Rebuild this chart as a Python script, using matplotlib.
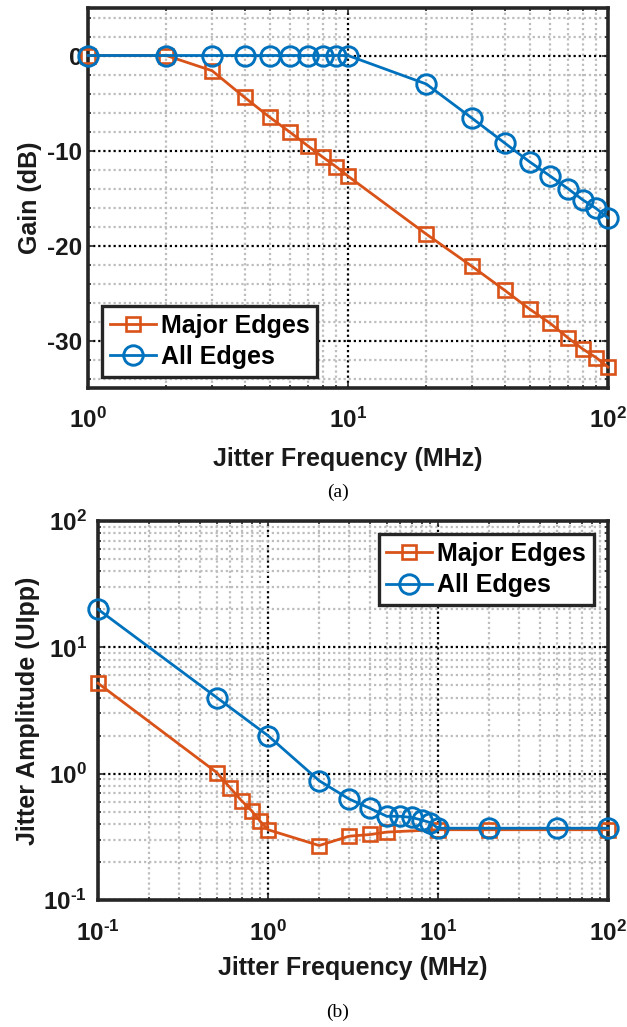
import numpy as np
import matplotlib
matplotlib.use('Agg')
import matplotlib.pyplot as plt
from matplotlib.ticker import FixedLocator, LogLocator, FuncFormatter, NullFormatter

plt.rcParams['font.family'] = ['Liberation Sans', 'DejaVu Sans']
plt.rcParams['font.weight'] = 'bold'
plt.rcParams['axes.unicode_minus'] = False
plt.rcParams['mathtext.fontset'] = 'custom'
plt.rcParams['mathtext.rm'] = 'Liberation Sans:bold'
plt.rcParams['mathtext.bf'] = 'Liberation Sans:bold'
plt.rcParams['mathtext.it'] = 'Liberation Sans:bold'

# (a) jitter transfer
freq_a_major = [1, 2, 3, 4, 5, 6, 7, 8, 9, 10, 20, 30, 40, 50, 60, 70, 80, 90, 100]
gain_major = [0, 0, -1.6, -4.4, -6.5, -8.1, -9.5, -10.7, -11.7, -12.7,
              -18.8, -22.2, -24.7, -26.7, -28.2, -29.7, -30.9, -31.8, -32.8]
freq_a_all = [1, 2, 3, 4, 5, 6, 7, 8, 9, 10, 20, 30, 40, 50, 60, 70, 80, 90, 100]
gain_all = [0, 0, 0, 0, 0, 0, 0, 0, 0, 0,
            -3.0, -6.6, -9.2, -11.2, -12.7, -14.0, -15.2, -16.1, -17.1]

# (b) jitter tolerance
freq_b_major = [0.1, 0.5, 0.6, 0.7, 0.8, 0.9, 1, 2, 3, 4, 5, 10, 20, 100]
amp_major = [5.2, 1.02, 0.77, 0.61, 0.51, 0.42, 0.36, 0.27, 0.32, 0.33, 0.345, 0.36, 0.36, 0.36]
freq_b_all = [0.1, 0.5, 1, 2, 3, 4, 5, 6, 7, 8, 9, 10, 20, 50, 100]
amp_all = [20, 4.0, 2.0, 0.88, 0.63, 0.53, 0.46, 0.46, 0.45, 0.43, 0.41, 0.37, 0.37, 0.37, 0.37]

orange = '#D95319'
blue = '#0072BD'
dark = '#262626'
txt = '#1a1a1a'


def pow10(v, pos):
    e = int(round(np.log10(v)))
    if e < 0:
        return r'$\mathrm{10^{\text{-}%d}}$' % (-e)
    return r'$\mathrm{10^{%d}}$' % e


def style_axes(ax):
    for s in ax.spines.values():
        s.set_linewidth(2.6)
        s.set_color(dark)
    ax.tick_params(which='both', direction='in', top=True, right=True,
                   labelsize=17.5, colors=dark, labelcolor=txt, width=1.2)
    ax.tick_params(which='major', length=4)
    ax.tick_params(which='minor', length=2.5)
    ax.grid(True, which='major', color='black', linestyle=(0, (1, 1.3)), linewidth=1.6)
    ax.grid(True, which='minor', color='#bdbdbd', linestyle=(0, (1, 1.3)), linewidth=1.6)
    ax.set_axisbelow(True)


def add_legend(ax, loc, anchor):
    leg = ax.legend(loc=loc, bbox_to_anchor=anchor, fontsize=18,
                    frameon=True, fancybox=False, borderpad=0.3, handlelength=1.85,
                    handletextpad=0.2, labelspacing=0.3, borderaxespad=0)
    leg.get_frame().set_edgecolor(dark)
    leg.get_frame().set_linewidth(2.4)
    leg.get_frame().set_alpha(1)
    return leg


fig = plt.figure(figsize=(6.27, 10.27), dpi=100)

# ---- top panel
ax1 = fig.add_axes([88 / 627, 1 - 388 / 1027, (608 - 88) / 627, (388 - 8) / 1027])
ax1.semilogx(freq_a_major, gain_major, '-s', color=orange, lw=2, ms=10.5,
             mfc='none', mew=1.9, label='Major Edges', clip_on=False, zorder=3)
ax1.semilogx(freq_a_all, gain_all, '-o', color=blue, lw=2, ms=14,
             mfc='none', mew=2.1, label='All Edges', clip_on=False, zorder=4)
ax1.set_xlim(1, 100)
ax1.set_ylim(-35, 5)
ax1.yaxis.set_major_locator(FixedLocator([-30, -20, -10, 0]))
ax1.yaxis.set_minor_locator(FixedLocator(np.arange(-34, 5, 2)))
ax1.yaxis.set_major_formatter(FuncFormatter(lambda v, p: '%d' % v))
ax1.xaxis.set_major_locator(LogLocator(base=10))
ax1.xaxis.set_minor_locator(LogLocator(base=10, subs=np.arange(2, 10)))
ax1.xaxis.set_major_formatter(FuncFormatter(pow10))
ax1.xaxis.set_minor_formatter(NullFormatter())
style_axes(ax1)
ax1.tick_params(axis='x', pad=14)
ax1.tick_params(axis='y', pad=4)
ax1.set_xlabel('Jitter Frequency (MHz)', fontsize=18, fontweight='bold', color=txt, labelpad=10)
ax1.set_ylabel('Gain (dB)', fontsize=18, fontweight='bold', color=txt, labelpad=4)
add_legend(ax1, 'lower left', (0.027, 0.03))

# ---- bottom panel
ax2 = fig.add_axes([98 / 627, 1 - 900 / 1027, (608 - 98) / 627, (900 - 521) / 1027])
ax2.loglog(freq_b_major, amp_major, '-s', color=orange, lw=2, ms=10.5,
           mfc='none', mew=1.9, label='Major Edges', clip_on=False, zorder=3)
ax2.loglog(freq_b_all, amp_all, '-o', color=blue, lw=2, ms=14,
           mfc='none', mew=2.1, label='All Edges', clip_on=False, zorder=4)
ax2.set_xlim(0.1, 100)
ax2.set_ylim(0.1, 100)
for a in (ax2.xaxis, ax2.yaxis):
    a.set_major_locator(LogLocator(base=10))
    a.set_minor_locator(LogLocator(base=10, subs=np.arange(2, 10)))
    a.set_major_formatter(FuncFormatter(pow10))
    a.set_minor_formatter(NullFormatter())
style_axes(ax2)
ax2.tick_params(axis='x', pad=15)
ax2.tick_params(axis='y', pad=8)
ax2.set_xlabel('Jitter Frequency (MHz)', fontsize=18, fontweight='bold', color=txt, labelpad=7)
ax2.set_ylabel('Jitter Amplitude (UIpp)', fontsize=18, fontweight='bold', color=txt, labelpad=2)
add_legend(ax2, 'upper right', (0.972, 0.965))

fig.text(338 / 627, 1 - 492 / 1027, '(a)', ha='center', va='center',
         fontsize=14, fontweight='normal', family='Liberation Serif')
fig.text(338 / 627, 1 - 1012 / 1027, '(b)', ha='center', va='center',
         fontsize=14, fontweight='normal', family='Liberation Serif')

fig.savefig('out.png', dpi=100)
